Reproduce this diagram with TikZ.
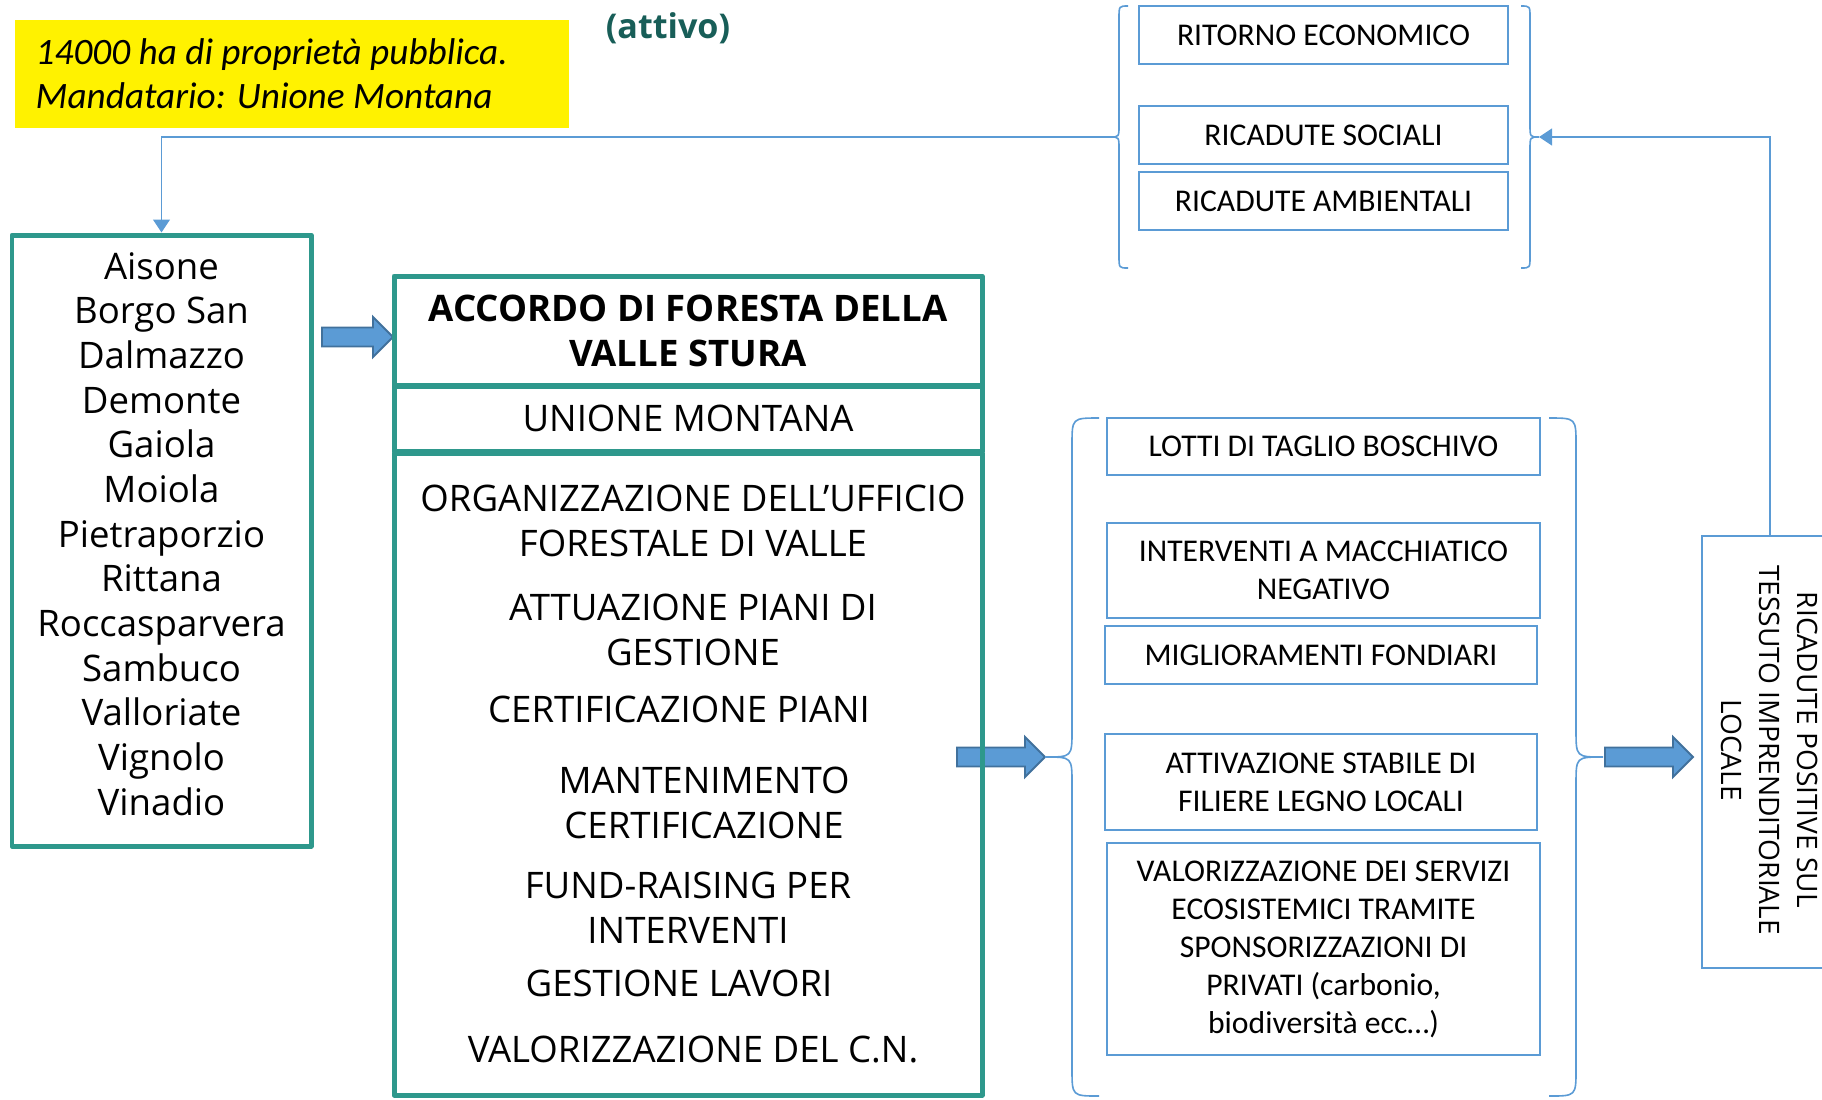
\documentclass[tikz,border=0pt]{standalone}
\usepackage{fontspec}
\setmainfont{Open Sans}
\newfontfamily\calfont{Carlito}
\usepackage{xcolor}
\usetikzlibrary{backgrounds}
\usetikzlibrary{calc}
\usetikzlibrary{arrows.meta}
\definecolor{tealbd}{RGB}{46,152,140}
\definecolor{tealdk}{RGB}{24,94,88}
\definecolor{blueln}{RGB}{91,155,213}
\definecolor{bluedk}{RGB}{65,113,156}
\newcommand{\pxu}{0.01cm}
\newcommand{\pxfont}[2]{\fontsize{#1}{#2}\selectfont}
\newcommand{\midy}{757}
\newcommand{\topy}{137}
\newcommand{\midw}{433*\pxu}
\newcommand{\topw}{369*\pxu}
\newcommand{\accw}{588*\pxu}
\newcommand{\blkarrow}[3]{
  \draw[blkarr] (#1,#2-9.5) -- (#1+#3-20,#2-9.5) -- (#1+#3-20,#2-20)
    -- (#1+#3,#2) -- (#1+#3-20,#2+20) -- (#1+#3-20,#2+9.5)
    -- (#1,#2+9.5) -- cycle;}
\newcommand{\brc}[6]{
  \draw[brcline] ({#1+(#5)},#2) .. controls (#1,#2) .. (#1,#2+#6)
    -- (#1,#3-#6) .. controls (#1,#3) .. ({#1-(#5)},#3)
    .. controls (#1,#3) .. (#1,#3+#6)
    -- (#1,#4-#6) .. controls (#1,#4) .. ({#1+(#5)},#4);}
\tikzset{
  tealbox/.style={draw=tealbd, line width=1.42pt, line join=round, inner sep=0pt},
  bluebox/.style={draw=blueln, line width=0.7pt, fill=white, inner sep=0pt,
    align=center, font=\calfont\pxfont{9}{10.8}},
  yellowbox/.style={fill=yellow, inner sep=0pt},
  blkarr/.style={fill=blueln, draw=bluedk, line width=0.55pt},
  brcline/.style={draw=blueln, line width=0.46pt},
  fbline/.style={draw=blueln, line width=0.46pt,
    -{Triangle[length=3.7pt,width=4.8pt]}},
}
\begin{document}
\begin{tikzpicture}[x=0.01cm,y=-0.01cm,font=\pxfont{10.4}{12.8}]
  \useasboundingbox (0,0) rectangle (1822,1099);
  \clip (0,0) rectangle (1822,1099);

  \begin{scope}[on background layer]
    \node[yellowbox, minimum width=554*\pxu, minimum height=108*\pxu]
      (mandate) at (292,74) {};
    \blkarrow{322}{337}{71}
    \blkarrow{957}{\midy}{88}
    \blkarrow{1605}{\midy}{88}
  \end{scope}

  \node[anchor=west, align=left, inner sep=0pt, font=\calfont\itshape\pxfont{10.6}{12.5}]
    (mandatetxt) at (35,74) {14000 ha di proprietà pubblica.\\Mandatario: Unione Montana};
  \node[font=\bfseries\pxfont{9.7}{11}, text=tealdk] (attivo) at (668,28) {(attivo)};

  % comuni
  \node[tealbox, minimum width=299*\pxu, minimum height=611*\pxu]
    (comuni) at (161.5,540.5) {};
  \node[align=center, font=\pxfont{10.4}{12.7}] (comunitxt) at (161.5,534) {Aisone\\Borgo San\\Dalmazzo\\Demonte\\Gaiola\\Moiola\\Pietraporzio\\Rittana\\Roccasparvera\\Sambuco\\Valloriate\\Vignolo\\Vinadio};

  % accordo
  \node[tealbox, minimum width=\accw, minimum height=109*\pxu, align=center,
    font=\bfseries\pxfont{10.4}{12.8}] (acchead) at (688,330.5)
    {ACCORDO DI FORESTA DELLA\\VALLE STURA};
  \node[tealbox, minimum width=\accw, minimum height=65*\pxu]
    (accunion) at (688,418.5) {UNIONE MONTANA};
  \node[tealbox, minimum width=\accw, minimum height=642*\pxu]
    (acclist) at (688,774) {};
  \node[align=center] (organiz) at (693,521) {ORGANIZZAZIONE DELL’UFFICIO\\FORESTALE DI VALLE};
  \node[align=center] (attuaz) at (693,629.5) {ATTUAZIONE PIANI DI\\GESTIONE};
  \node (certpiani) at (679,709) {CERTIFICAZIONE PIANI};
  \node[align=center] (manten) at (704,803) {MANTENIMENTO\\CERTIFICAZIONE};
  \node[align=center] (fundrais) at (688,907.5) {FUND-RAISING PER\\INTERVENTI};
  \node (gestlav) at (679,983) {GESTIONE LAVORI};
  \node (valcn) at (693,1049) {VALORIZZAZIONE DEL C.N.};

  % ricadute
  \node[bluebox, minimum width=\topw, minimum height=58*\pxu]
    (ritorno) at (1323.5,35) {RITORNO ECONOMICO};
  \node[bluebox, minimum width=\topw, minimum height=58*\pxu]
    (sociali) at (1323.5,135) {RICADUTE SOCIALI};
  \node[bluebox, minimum width=\topw, minimum height=58*\pxu]
    (ambient) at (1323.5,201) {RICADUTE AMBIENTALI};

  % attivita
  \node[bluebox, minimum width=\midw, minimum height=57*\pxu]
    (lotti) at (1323.5,446.5) {LOTTI DI TAGLIO BOSCHIVO};
  \node[bluebox, minimum width=\midw, minimum height=95*\pxu]
    (macchiat) at (1323.5,570.5) {INTERVENTI A MACCHIATICO\\NEGATIVO};
  \node[bluebox, minimum width=432*\pxu, minimum height=58*\pxu]
    (fondiari) at (1321,655) {MIGLIORAMENTI FONDIARI};
  \node[bluebox, minimum width=432*\pxu, minimum height=96*\pxu]
    (filiere) at (1321,782) {ATTIVAZIONE STABILE DI\\FILIERE LEGNO LOCALI};
  \node[bluebox, minimum width=\midw, minimum height=212*\pxu]
    (servizi) at (1323.5,949) {VALORIZZAZIONE DEI SERVIZI\\ECOSISTEMICI TRAMITE\\SPONSORIZZAZIONI DI\\PRIVATI (carbonio,\\biodiversità ecc…)};

  \node[bluebox, minimum width=136*\pxu, minimum height=432*\pxu]
    (ricadute) at (1770,752) {};
  \node[rotate=-90, align=center, font=\pxfont{8}{10.8}] (ricadutetxt) at (1770,750)
    {RICADUTE POSITIVE SUL\\TESSUTO IMPRENDITORIALE\\LOCALE};

  \brc{1119}{6}{\topy}{268}{9}{12}
  \brc{1530}{6}{\topy}{268}{-9}{12}
  \brc{1072}{418}{\midy}{1096}{27}{27}
  \brc{1576}{418}{\midy}{1096}{-27}{27}
  \coordinate (toptipl) at (1113,\topy);
  \coordinate (toptipr) at (1539,\topy);

  \draw[fbline] (toptipl) -| (comuni.north);
  \draw[fbline] (ricadute.north) |- (toptipr);
\end{tikzpicture}
\end{document}
